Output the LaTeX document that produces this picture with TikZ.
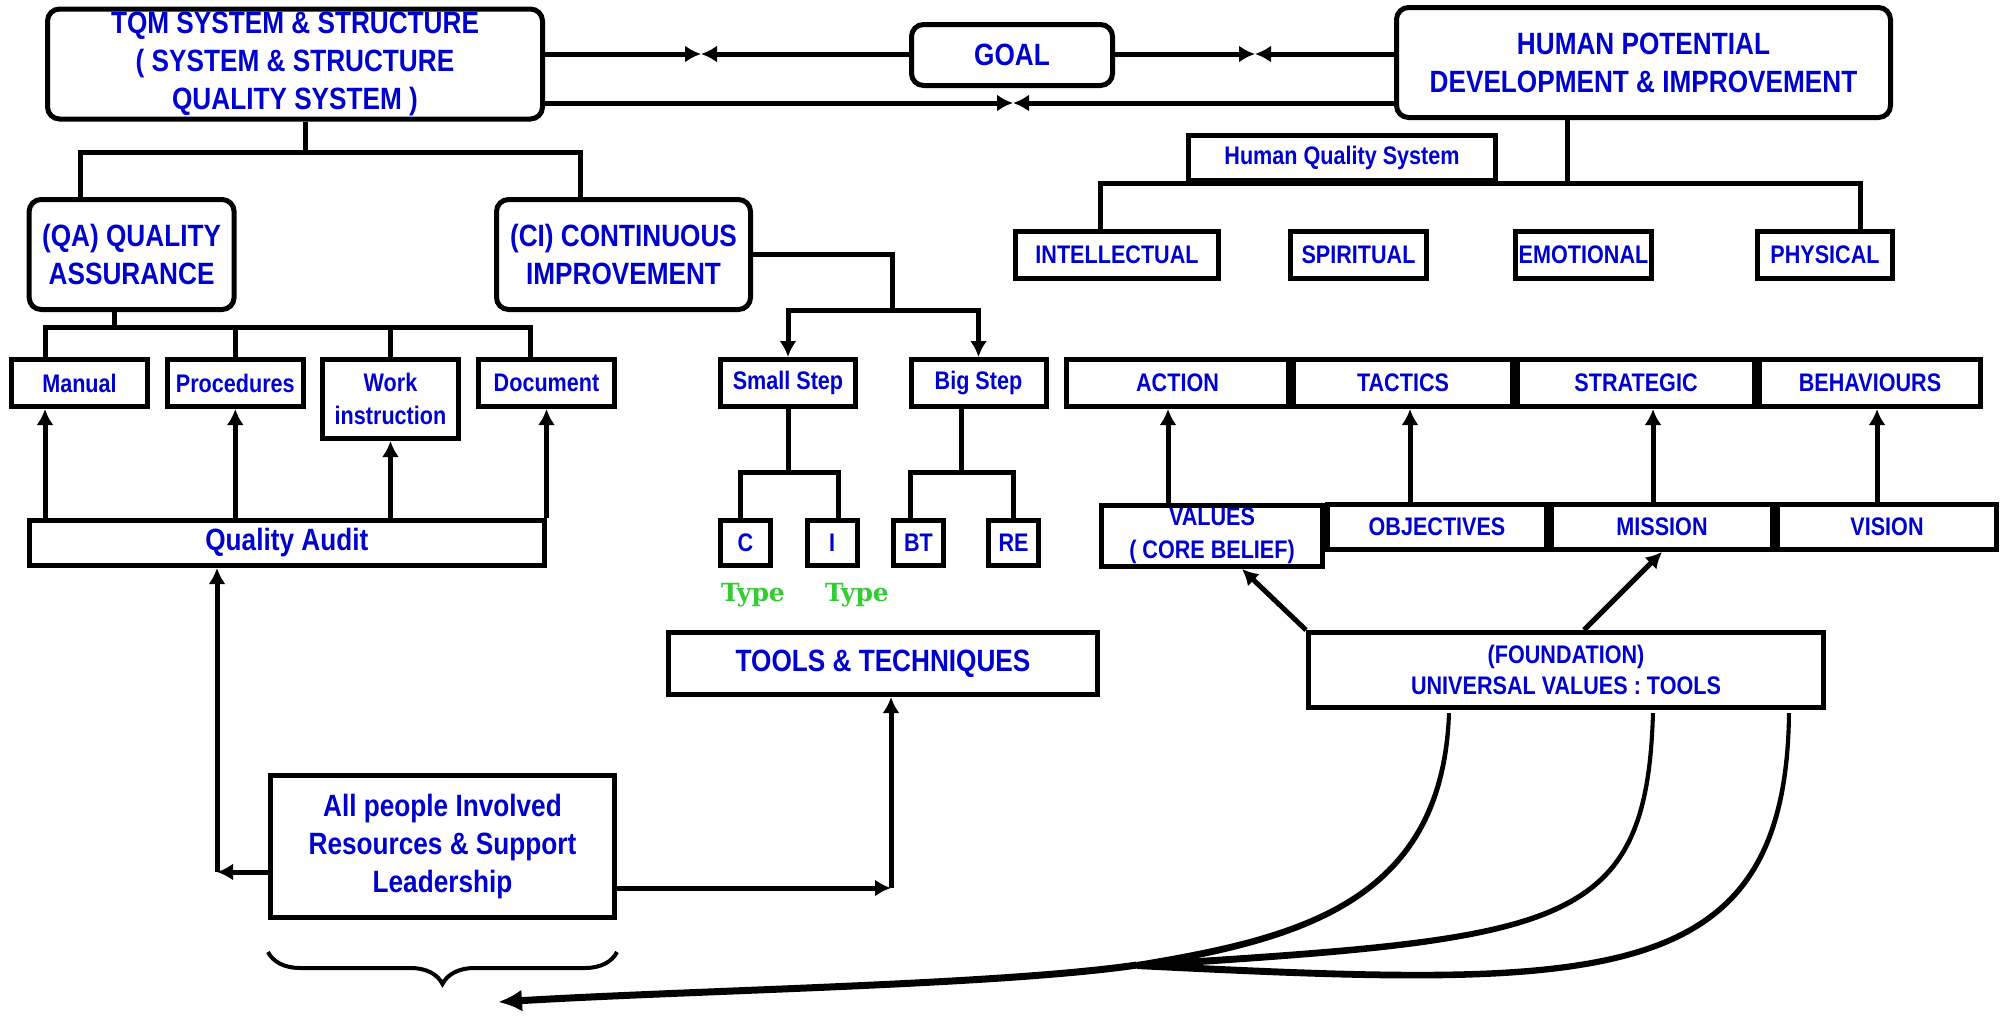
\documentclass[tikz,border=0pt]{standalone}
\usepackage{fontspec}
\setmainfont{Liberation Sans}[FakeStretch=0.85]
\newfontfamily\typefont{DejaVu Serif}
\usetikzlibrary{arrows.meta,decorations.pathreplacing}
\definecolor{txtblue}{RGB}{0,0,204}
\definecolor{typegreen}{RGB}{51,204,51}
\newcommand{\bigfont}{\bfseries\fontsize{15.4}{19}\selectfont}
\newcommand{\midfont}{\bfseries\fontsize{12.7}{16.3}\selectfont}
\tikzset{
  box/.style={draw, line width=2.5pt, text=txtblue, align=center, inner sep=0pt, font=\midfont},
  rbox/.style={box, rounded corners=6pt, font=\bigfont},
  conn/.style={line width=2.5pt},
  arr/.style={conn, -{Latex[length=8pt,width=8.5pt]}},
  typelbl/.style={text=typegreen, font=\typefont\bfseries\fontsize{12.5}{14}\selectfont},
}
\begin{document}
\begin{tikzpicture}[x=0.5pt,y=-0.5pt]
\useasboundingbox (0,0) rectangle (2004,1017);

% top row
\node[rbox, minimum width=247.5pt, minimum height=55pt] (tqm) at (295,64) {TQM SYSTEM \& STRUCTURE\\( SYSTEM \& STRUCTURE\\QUALITY SYSTEM )};
\node[rbox, minimum width=100.5pt, minimum height=30.5pt] (goal) at (1012,55) {GOAL};
\node[rbox, minimum width=247pt, minimum height=55pt] (human) at (1643.5,62.5) {HUMAN POTENTIAL\\DEVELOPMENT \& IMPROVEMENT};

\coordinate (m1) at (701,54);
\coordinate (m2) at (1255,54);
\coordinate (m3) at (1013,103);
\draw[arr] (tqm.east |- m1) -- (m1);
\draw[arr] (goal.west |- m1) -- (m1);
\draw[arr] (goal.east |- m2) -- (m2);
\draw[arr] (human.west |- m2) -- (m2);
\draw[arr] (tqm.east |- m3) -- (m3);
\draw[arr] (human.west |- m3) -- (m3);

% quality system side
\node[rbox, minimum width=102.5pt, minimum height=55pt] (qa) at (131.6,254.5) {(QA) QUALITY\\ASSURANCE};
\node[rbox, minimum width=127pt, minimum height=55pt] (ci) at (623.5,254.5) {(CI) CONTINUOUS\\IMPROVEMENT};

\coordinate (tqmL) at (80,152);
\coordinate (tqmR) at (580,152);
\draw[conn] (tqm.south -| 305,0) -- (305,152);
\draw[conn] (qa.north -| tqmL) -- (tqmL) -- (tqmR) -- (ci.north -| tqmR);

\node[box, minimum width=68pt, minimum height=23.5pt] (manual) at (79.5,383) {Manual};
\node[box, minimum width=68pt, minimum height=23.5pt] (proc) at (235.3,383) {Procedures};
\node[box, minimum width=68pt, minimum height=39.5pt] (work) at (390.5,399) {Work\\instruction};
\node[box, minimum width=68pt, minimum height=23.5pt] (doc) at (546.5,383) {Document};
\node[box, minimum width=257.75pt, minimum height=22.5pt, font=\bigfont] (qaudit) at (286.8,543) {Quality Audit};

\coordinate (qaL) at (45,327);
\coordinate (qaR) at (530,327);
\draw[conn] (114,312) -- (114,327);
\draw[conn] (manual.north -| qaL) -- (qaL) -- (qaR) -- (doc.north -| qaR);
\draw[conn] (proc.north) -- (proc.north |- qaL);
\draw[conn] (work.north) -- (work.north |- qaL);

\draw[arr] (qaudit.north -| qaL) -- (manual.south -| qaL);
\draw[arr] (qaudit.north -| proc.south) -- (proc.south);
\draw[arr] (qaudit.north -| work.south) -- (work.south);
\draw[arr] (qaudit.north -| doc.south) -- (doc.south);

% continuous improvement
\node[box, minimum width=67.5pt, minimum height=23.5pt] (small) at (788,383) {Small Step};
\node[box, minimum width=67.5pt, minimum height=23.5pt] (big) at (978.5,383) {Big Step};

\coordinate (ciC) at (892,310);
\draw[conn] (ci.east) -| (ciC);
\draw[arr] (ciC) -| (small.north);
\draw[arr] (ciC) -| (big.north);

\node[box, minimum width=25pt, minimum height=22.5pt] (c) at (745.5,543) {C};
\node[box, minimum width=25pt, minimum height=22.5pt] (i) at (832,543) {I};
\node[box, minimum width=25pt, minimum height=22.5pt] (bt) at (918.5,543) {BT};
\node[box, minimum width=25pt, minimum height=22.5pt] (re) at (1013.5,543) {RE};
\node[typelbl] (ctype) at (753,595) {Type};
\node[typelbl] (itype) at (857,595) {Type};

\coordinate (sL) at (740,472);
\coordinate (sR) at (838,472);
\coordinate (bL) at (910,472);
\coordinate (bR) at (1013,472);
\draw[conn] (small.south) -- (small.south |- sL);
\draw[conn] (c.north -| sL) -- (sL) -- (sR) -- (i.north -| sR);
\draw[conn] (961,408) -- (961,472);
\draw[conn] (bt.north -| bL) -- (bL) -- (bR) -- (re.north -| bR);

\node[box, minimum width=214.5pt, minimum height=31pt, font=\bigfont] (tools) at (883,663.5) {TOOLS \& TECHNIQUES};
\node[box, minimum width=172pt, minimum height=71pt, font=\bigfont] (allppl) at (442.5,846.5) {All people Involved\\Resources \& Support\\Leadership};

\coordinate (lc) at (217,872);
\coordinate (rc) at (891,888);
\draw[arr] (allppl.west |- lc) -- (lc);
\draw[arr] (lc) -- (qaudit.south -| lc);
\draw[arr] (allppl.east |- rc) -- (rc);
\draw[arr] (rc) -- (tools.south -| rc);

\draw[line width=2pt, decorate, decoration={brace, amplitude=16pt, mirror}] ([yshift=-16pt]allppl.south west) -- ([yshift=-16pt]allppl.south east);

% human side
\node[box, minimum width=153.5pt, minimum height=22.5pt, font=\bfseries\fontsize{12.7}{14}\selectfont] (hqs) at (1342,158) {Human Quality System};
\node[box, minimum width=101.5pt, minimum height=23.5pt] (intel) at (1117,255) {INTELLECTUAL};
\node[box, minimum width=68pt, minimum height=23.5pt] (spirit) at (1358.5,255) {SPIRITUAL};
\node[box, minimum width=68pt, minimum height=23.5pt] (emot) at (1583.5,255) {EMOTIONAL};
\node[box, minimum width=67.5pt, minimum height=23.5pt] (phys) at (1825,255) {PHYSICAL};

\coordinate (hL) at (1100,183);
\coordinate (hR) at (1860,183);
\draw[conn] (human.south -| 1567,0) -- (1567,183);
\draw[conn] (intel.north -| hL) -- (hL) -- (hR) -- (phys.north -| hR);

\node[box, minimum width=111pt, minimum height=23.5pt] (action) at (1177.5,383) {ACTION};
\node[box, minimum width=109.5pt, minimum height=23.5pt] (tactics) at (1403,383) {TACTICS};
\node[box, minimum width=118.5pt, minimum height=23.5pt] (strategic) at (1636,383) {STRATEGIC};
\node[box, minimum width=110.5pt, minimum height=23.5pt] (behav) at (1870,383) {BEHAVIOURS};

\node[box, minimum width=110.5pt, minimum height=30.5pt] (values) at (1212,536) {VALUES\\( CORE BELIEF)};
\node[box, minimum width=109.5pt, minimum height=22.5pt] (objectives) at (1437,527) {OBJECTIVES};
\node[box, minimum width=110.5pt, minimum height=22.5pt] (mission) at (1662,527) {MISSION};
\node[box, minimum width=109.5pt, minimum height=22.5pt] (vision) at (1887,527) {VISION};

\draw[arr] (values.north -| 1168,0) -- (action.south -| 1168,0);
\draw[arr] (objectives.north -| 1410,0) -- (tactics.south -| 1410,0);
\draw[arr] (mission.north -| 1653,0) -- (strategic.south -| 1653,0);
\draw[arr] (vision.north -| 1877,0) -- (behav.south -| 1877,0);

\node[box, minimum width=257.5pt, minimum height=37.5pt, font=\bfseries\fontsize{12.7}{15.5}\selectfont] (found) at (1566,670) {(FOUNDATION)\\UNIVERSAL VALUES : TOOLS};

\draw[arr] (found.north west) -- ([xshift=15pt]values.south);
\draw[arr] ([xshift=9pt]found.north) -- (mission.south);

% tools lines down to the left
\coordinate (jn) at (1137,965);
\coordinate (tip) at (498,1002);
\fill (1447,713) .. controls (1439,900) and (1300,935) .. (1137,962) -- (1137,969) .. controls (1303,942) and (1446,902) .. (1451,713) -- cycle;
\fill (1651,713) .. controls (1644,930) and (1560,935) .. (1137,962) -- (1137,969) .. controls (1563,942) and (1649,932) .. (1655,713) -- cycle;
\fill (1787,713) .. controls (1783,990) and (1600,985) .. (1137,962) -- (1137,969) .. controls (1600,992) and (1789,995) .. (1791,713) -- cycle;
\draw[line width=3.5pt, -{Latex[length=12pt,width=11pt]}] (jn) .. controls (1000,985) and (700,990) .. (tip);
\end{tikzpicture}
\end{document}
